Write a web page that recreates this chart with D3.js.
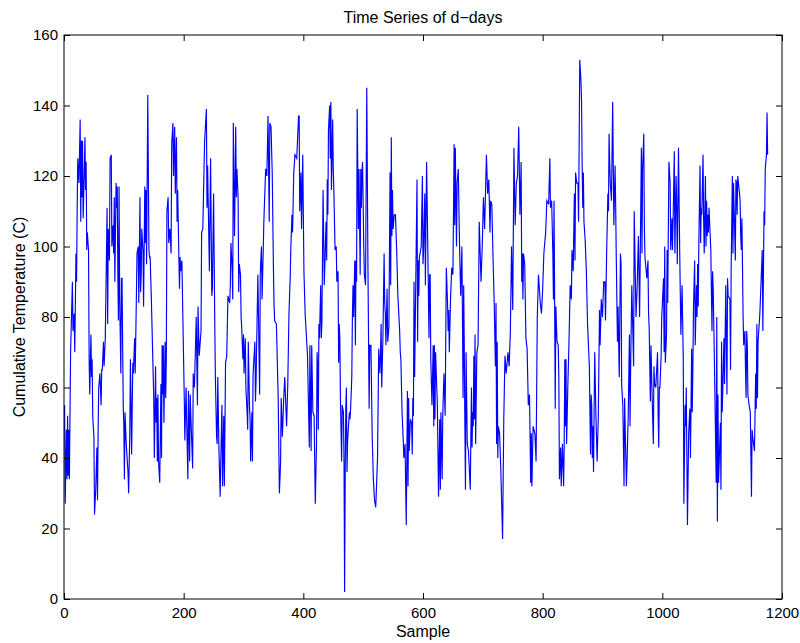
<!DOCTYPE html>
<html>
<head>
<meta charset="utf-8">
<script src="https://cdn.jsdelivr.net/npm/d3@7"></script>
<style>
  body { margin: 0; background: #fff; }
  text { font-family: "Liberation Sans", Arial, Helvetica, sans-serif; }
</style>
</head>
<body>
<div id="chart"></div>
<script>
const titleText = 'Time Series of d\u2212days';
const xLabel = 'Sample';
const yLabel = 'Cumulative Temperature (C)';
const xTicks = [0, 200, 400, 600, 800, 1000, 1200];
const yTicks = [0, 20, 40, 60, 80, 100, 120, 140, 160];

// [sample, value]
const series = [
  [1,55],[2,27],[4,48],[5,34],[6,52],[7,35],[8,48],[9,34],[11,70],[14,90],[15,76],[17,81],[18,70],[20,98],[21,90],[22,110],[23,125],[25,118],[27,136],[28,107],[29,130],[30,114],[31,130],[32,108],[34,122],[35,131],[36,116],[37,124],[38,99],[39,104],[41,99],[42,68],[43,58],[45,75],[46,63],[47,68],[48,52],[50,46],[51,24],[53,31],[55,43],[56,28],[57,47],[58,60],[60,64],[62,55],[63,65],[64,65],[66,73],[67,66],[69,74],[71,98],[72,111],[73,78],[74,105],[76,96],[77,125],[79,126],[80,100],[82,106],[83,98],[84,114],[85,90],[87,118],[88,111],[89,117],[90,92],[91,79],[92,117],[93,86],[95,64],[96,91],[97,91],[99,55],[100,49],[101,34],[102,53],[104,44],[107,36],[108,30],[110,47],[111,68],[112,56],[113,41],[115,67],[116,64],[118,74],[119,64],[121,86],[122,98],[124,100],[125,84],[127,114],[128,87],[129,92],[130,105],[132,99],[133,83],[135,117],[136,101],[137,116],[138,95],[140,143],[142,99],[143,97],[144,97],[146,85],[149,64],[150,57],[151,40],[153,66],[154,50],[155,57],[156,39],[157,58],[158,39],[160,33],[162,61],[163,40],[164,72],[165,58],[166,72],[167,50],[169,73],[170,57],[171,68],[172,110],[174,114],[175,101],[177,105],[179,98],[180,129],[182,135],[183,120],[185,134],[186,115],[188,131],[189,107],[190,116],[192,97],[193,88],[194,97],[195,93],[197,96],[201,57],[202,45],
  [204,60],[207,34],[208,59],[210,39],[211,58],[212,52],[215,37],[216,64],[218,60],[221,80],[223,55],[224,83],[226,69],[229,76],[230,104],[232,105],[235,130],[238,139],[239,111],[240,123],[243,93],[245,125],[247,86],[248,88],[250,115],[252,78],[253,63],[255,46],[256,44],[257,63],[259,42],[261,29],[262,39],[264,55],[265,32],[267,52],[268,32],[269,49],[270,67],[272,69],[274,86],[277,84],[278,89],[279,101],[281,94],[282,85],[283,135],[285,103],[287,134],[288,114],[289,122],[291,114],[292,87],[293,95],[295,92],[296,80],[297,77],[299,68],[300,75],[301,64],[303,74],[304,60],[306,53],[307,48],[308,73],[310,55],[311,51],[312,39],[314,53],[315,39],[316,64],[319,73],[320,56],[321,62],[324,92],[327,58],[328,92],[330,100],[331,85],[333,99],[334,107],[337,122],[339,120],[341,137],[343,107],[344,135],[346,134],[348,121],[350,94],[351,84],[352,79],[355,78],[358,57],[360,30],[362,39],[363,57],[365,46],[367,56],[369,63],[372,49],[374,61],[376,81],[378,91],[379,99],[381,109],[382,104],[384,121],[386,126],[389,125],[392,137],[393,137],[394,110],[396,121],[397,105],[399,126],[401,93],[403,81],
  [407,69],[410,43],[411,72],[413,42],[414,72],[416,53],[418,52],[420,27],[422,44],[423,70],[424,65],[425,48],[426,78],[427,74],[429,89],[430,74],[431,78],[433,116],[435,89],[438,107],[439,96],[440,119],[441,109],[442,133],[444,140],[445,125],[446,141],[447,116],[449,136],[450,122],[451,116],[453,99],[455,100],[456,90],[458,93],[459,67],[460,78],[461,74],[462,57],[464,39],[465,55],[467,53],[468,39],[469,2],[470,36],[471,54],[472,60],[473,36],[474,45],[477,53],[478,51],[479,54],[481,63],[482,80],[483,89],[484,80],[486,96],[487,72],[488,96],[489,90],[490,139],[492,105],[493,122],[495,92],[496,122],[497,111],[498,121],[499,124],[501,100],[502,92],[504,89],[506,145],[508,94],[510,54],[511,72],[513,72],[515,47],[517,34],[519,28],[521,26],[524,40],[526,71],[528,64],[529,70],[530,78],[531,60],[533,74],[535,98],[536,84],[537,81],[538,72],[540,88],[541,73],[543,77],[545,121],[546,89],[547,131],[548,103],[549,116],[550,105],[552,109],[554,109],[556,99],[558,86],[561,76],[562,70],[563,68],[565,53],[567,45],[568,40],[570,44],[572,21],[574,59],[575,32],[576,57],[577,42],[579,51],[581,50],[582,41],[583,57],[584,52],[585,90],[586,63],[588,91],[590,119],[591,73],[592,96],[593,86],[594,97],[597,100],[599,120],[600,95],[601,99],[603,115],[604,89],[606,124],
  [608,100],[610,74],[611,92],[612,92],[613,68],[615,55],[617,72],[618,49],[619,72],[620,51],[621,70],[624,55],[626,29],[628,51],[629,31],[630,53],[632,34],[633,52],[635,64],[637,52],[639,94],[641,84],[642,76],[643,82],[644,70],[646,85],[648,94],[650,92],[652,129],[653,106],[654,128],[656,100],[657,118],[659,122],[661,101],[663,86],[665,100],[667,57],[668,89],[669,71],[670,49],[671,31],[672,70],[674,44],[676,42],[679,31],[681,60],[682,43],[683,53],[684,49],[685,69],[686,51],[687,75],[688,44],[690,70],[692,72],[694,107],[697,90],[699,100],[701,114],[703,105],[706,126],[708,115],[710,119],[712,104],[713,113],[715,112],[717,97],[719,84],[721,66],[722,84],[723,44],[724,73],[725,40],[726,49],[728,47],[730,37],[733,17],[735,51],[737,69],[739,64],[742,70],[744,66],[746,76],[748,100],[750,82],[752,128],[754,106],[756,118],[758,120],[760,134],[762,109],[764,124],[765,90],[766,98],[767,85],[768,98],[770,95],[772,74],[774,71],[776,55],[778,58],[780,33],[781,47],[782,32],[784,49],[787,47],[789,39],[791,80],[793,92],[796,84],[798,81],[800,88],[802,98],[805,104],[807,113],
  [810,112],[812,125],[813,111],[815,113],[817,98],[818,85],[819,113],[820,85],[821,54],[822,83],[824,73],[826,72],[827,63],[828,34],[830,43],[831,32],[833,44],[835,32],[836,44],[837,68],[838,49],[839,68],[840,44],[842,60],[844,73],[846,89],[848,85],[849,99],[851,93],[853,115],[854,96],[855,121],[857,118],[859,118],[860,107],[862,153],[864,147],[865,141],[866,123],[867,111],[868,121],[869,107],[871,102],[873,93],[875,78],[878,66],[880,41],[881,58],[882,55],[883,40],[884,49],[885,36],[887,70],[889,52],[891,39],[893,52],[895,82],[896,72],[898,85],[900,80],[901,85],[902,90],[904,90],[905,79],[907,99],[909,115],[910,110],[911,132],[912,124],[913,118],[915,113],[917,141],[919,106],[921,123],[922,112],[923,97],[925,73],[926,83],[928,63],[930,98],[931,95],[932,61],[934,55],[936,32],[937,57],[938,48],[940,32],[943,52],[945,75],[946,49],[947,65],[949,89],[952,66],[953,110],[956,80],[958,89],[960,103],[962,80],[965,128],[966,98],[967,122],[969,132],[970,105],[971,97],[974,91],[976,96],[977,81],[978,77],[980,56],[981,72],[983,57],[985,44],[986,66],[987,61],[989,60],[992,70],[993,52],[994,43],[995,60],[996,60],[998,69],[999,80],
  [1002,91],[1003,70],[1004,100],[1005,67],[1007,75],[1008,99],[1009,84],[1011,124],[1013,118],[1014,99],[1016,108],[1017,99],[1018,107],[1020,127],[1021,98],[1023,120],[1024,111],[1025,95],[1027,128],[1029,99],[1030,87],[1031,75],[1033,89],[1035,68],[1036,27],[1038,55],[1039,49],[1040,60],[1042,21],[1044,47],[1046,54],[1047,40],[1049,71],[1050,53],[1051,65],[1052,82],[1054,96],[1055,72],[1057,89],[1058,80],[1059,95],[1060,83],[1061,101],[1063,123],[1064,101],[1065,111],[1066,109],[1068,126],[1069,108],[1070,98],[1072,120],[1073,100],[1074,113],[1075,103],[1076,109],[1077,104],[1078,111],[1081,99],[1083,76],[1084,93],[1085,88],[1087,68],[1090,33],[1091,80],[1092,22],[1093,58],[1094,33],[1097,50],[1098,31],[1099,73],[1100,53],[1101,59],[1103,74],[1104,61],[1106,89],[1108,58],[1109,91],[1110,86],[1113,85],[1114,65],[1115,93],[1117,120],[1118,98],[1119,118],[1122,96],[1123,119],[1124,118],[1125,109],[1126,120],[1129,115],[1130,113],[1131,103],[1132,99],[1133,108],[1135,80],[1136,72],[1138,76],[1139,65],[1140,57],[1141,76],[1142,72],[1143,58],[1145,55],[1147,53],[1149,29],[1150,48],[1151,46],[1154,42],[1156,64],[1157,54],[1158,78],[1159,57],[1160,73],[1163,81],[1165,90],[1167,99],[1168,76],[1170,110],[1171,106],[1172,122],[1174,126],[1175,138],[1176,126]
];

const W = 800, H = 643;
const margin = {top: 35, right: 18, bottom: 44, left: 64};
const width = W - margin.left - margin.right;
const height = H - margin.top - margin.bottom;

const svg = d3.select('#chart').append('svg')
  .attr('width', W)
  .attr('height', H)
  .style('background', '#fff');

const g = svg.append('g')
  .attr('transform', 'translate(' + margin.left + ',' + margin.top + ')');

const x = d3.scaleLinear().domain([0, 1200]).range([0, width]);
const y = d3.scaleLinear().domain([0, 160]).range([height, 0]);

g.append('clipPath').attr('id', 'clip')
  .append('rect').attr('width', width).attr('height', height);

const line = d3.line()
  .x(d => x(d[0]))
  .y(d => y(d[1]));

g.append('path')
  .datum(series)
  .attr('clip-path', 'url(#clip)')
  .attr('fill', 'none')
  .attr('stroke', '#0000ff')
  .attr('stroke-width', 1.15)
  .attr('d', line);

// MATLAB style: ticks inside the box on all four sides
const fmt = d3.format('d');
g.append('g')
  .attr('class', 'x axis')
  .attr('transform', 'translate(0,' + height + ')')
  .call(d3.axisBottom(x).tickValues(xTicks).tickFormat(fmt).tickSizeInner(-6).tickSizeOuter(0).tickPadding(8));
g.append('g')
  .call(d3.axisTop(x).tickValues(xTicks).tickFormat('').tickSizeInner(-6).tickSizeOuter(0));
g.append('g')
  .attr('class', 'y axis')
  .call(d3.axisLeft(y).tickValues(yTicks).tickFormat(fmt).tickSizeInner(-6).tickSizeOuter(0).tickPadding(6));
g.append('g')
  .attr('transform', 'translate(' + width + ',0)')
  .call(d3.axisRight(y).tickValues(yTicks).tickFormat('').tickSizeInner(-6).tickSizeOuter(0));

g.selectAll('.domain').remove();
g.selectAll('.tick line').attr('stroke', '#000');
g.selectAll('.tick text').attr('fill', '#000').style('font-size', '15px');

g.append('rect')
  .attr('width', width)
  .attr('height', height)
  .attr('fill', 'none')
  .attr('stroke', '#000')
  .attr('stroke-width', 1);

svg.append('text')
  .attr('x', margin.left + width / 2)
  .attr('y', 23)
  .attr('text-anchor', 'middle')
  .style('font-size', '16px')
  .text(titleText);

svg.append('text')
  .attr('x', margin.left + width / 2)
  .attr('y', 637)
  .attr('text-anchor', 'middle')
  .style('font-size', '16px')
  .text(xLabel);

svg.append('text')
  .attr('transform', 'translate(25,' + (margin.top + height / 2) + ') rotate(-90)')
  .attr('text-anchor', 'middle')
  .style('font-size', '16px')
  .text(yLabel);
</script>
</body>
</html>
